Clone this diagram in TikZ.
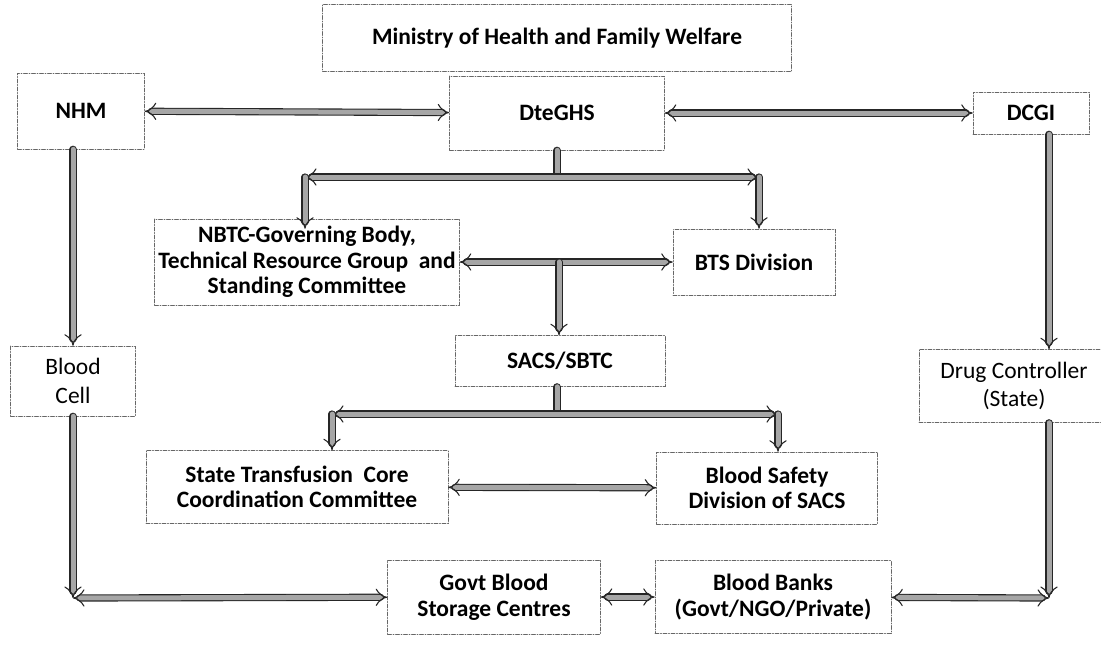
\documentclass[tikz,border=0pt]{standalone}
\usepackage{fontspec}
\setmainfont{Carlito}
\usetikzlibrary{arrows.meta}

\begin{document}
\begin{tikzpicture}[%
        x = 1pt,
        y = -1pt,
        line cap = round,
        box/.style = {%
            draw = black!60,
            dash pattern = on 4pt off 1.5pt on 1pt off 1.5pt,
            line width = 0.6pt,
            align = center,
            inner sep = 0pt,
            font = \bfseries\fontsize{23.5}{25.5}\selectfont
        },
        plainbox/.style = {box, font = \fontsize{23.5}{28.5}\selectfont},
        link/.style = {%
            draw = black!85,
            solid,
            line width = 1.1pt,
            double = black!35,
            double distance = 5pt
        },
        twoheads/.style = {link, {Implies[scale = 1.4]}-{Implies[scale = 1.4]}},
        onehead/.style = {link, -{Implies[scale = 1.4]}}
    ]

        % Page frame, same size as the picture.
        \useasboundingbox (0, 0) rectangle (1101, 648);

        % Junction points of the connectors.
        \coordinate (jdte) at (557, 177);
        \coordinate (jdtel) at (305, 177);
        \coordinate (jdter) at (759, 177);
        \coordinate (jmid) at (559, 262);
        \coordinate (jsacs) at (557, 414);
        \coordinate (jsacsl) at (332, 414);
        \coordinate (jsacsr) at (778, 414);
        \coordinate (cornl) at (73, 598);
        \coordinate (cornr) at (1049, 598);

        % Top row.
        \node[box, minimum width = 469pt, minimum height = 67pt] (ministry) at (557, 38) {Ministry of Health and Family Welfare};
        \node[box, minimum width = 215pt, minimum height = 74pt] (dte) at (557, 113) {DteGHS};
        \node[box, minimum width = 127pt, minimum height = 76pt] (nhm) at (81, 111) {NHM};
        \node[box, minimum width = 116pt, minimum height = 42pt] (dcgi) at (1031, 113) {DCGI};

        % Middle part.
        \node[box, minimum width = 305pt, minimum height = 86pt] (nbtc) at (307, 262) {NBTC-Governing Body,\\Technical Resource Group\ \ and\\Standing Committee};
        \node[box, minimum width = 162pt, minimum height = 66pt] (bts) at (754, 262) {BTS Division};
        \node[box, minimum width = 210pt, minimum height = 51pt] (sacs) at (560, 361) {SACS/SBTC};
        \node[box, minimum width = 302pt, minimum height = 73pt] (stcc) at (297, 487) {State Transfusion\ \ Core\\Coordination Committee};
        \node[box, minimum width = 221pt, minimum height = 72pt] (bsd) at (767, 488) {Blood Safety\\Division of SACS};

        % Side boxes.
        \node[plainbox, minimum width = 125pt, minimum height = 70pt] (bcell) at (73, 381) {Blood\\Cell};
        \node[plainbox, minimum width = 190pt, minimum height = 73pt] (dc) at (1014, 386) {Drug Controller\\(State)};

        % Bottom row.
        \node[box, minimum width = 213pt, minimum height = 74pt] (gbsc) at (494, 597) {Govt Blood\\Storage Centres};
        \node[box, minimum width = 236pt, minimum height = 73pt] (bb) at (773, 597) {Blood Banks\\(Govt/NGO/Private)};

        % Connectors.
        \draw[twoheads] (nhm) -- (dte);
        \draw[twoheads] (dte) -- (dcgi);
        \draw[link] (dte.south) -- (jdte);
        \draw[twoheads] (jdtel) -- (jdter);
        \draw[onehead] (jdtel) -- ([yshift = -10pt]jdtel |- nbtc.north);
        \draw[onehead] (jdter) -- (jdter |- bts.north);
        \draw[twoheads] (nbtc) -- (bts);
        \draw[onehead] (jmid) -- (jmid |- sacs.north);
        \draw[link] (sacs.south -| jsacs) -- (jsacs);
        \draw[twoheads] (jsacsl) -- (jsacsr);
        \draw[onehead] (jsacsl) -- (jsacsl |- stcc.north);
        \draw[onehead] (jsacsr) -- (jsacsr |- bsd.north);
        \draw[twoheads] (stcc) -- (bsd);

        % Left and right sides down to the bottom row.
        \draw[onehead] (nhm.south -| cornl) -- (bcell.north);
        \draw[onehead] (bcell.south) -- (cornl);
        \draw[twoheads] (cornl) -- (gbsc);
        \draw[onehead] (dcgi.south -| cornr) -- (dc.north -| cornr);
        \draw[onehead] (dc.south -| cornr) -- (cornr);
        \draw[twoheads] (cornr) -- (bb);
        \draw[twoheads] (gbsc) -- (bb);
\end{tikzpicture}
\end{document}
